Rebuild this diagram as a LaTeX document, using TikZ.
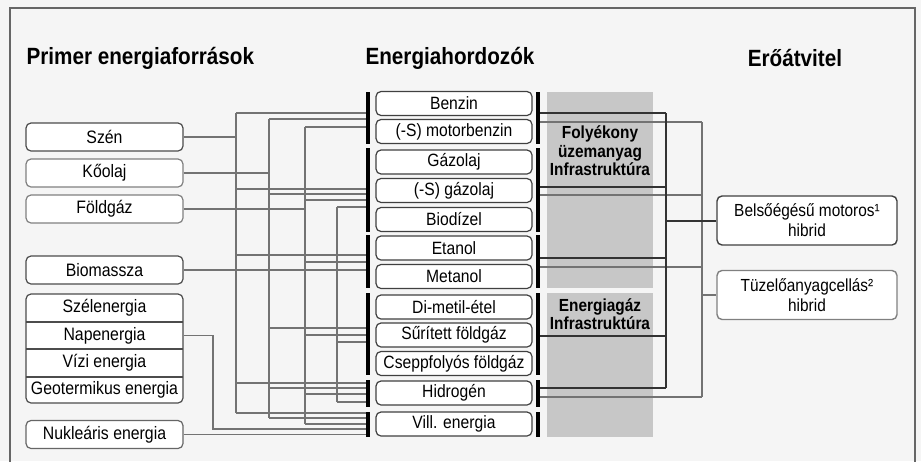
\documentclass[tikz,border=0pt]{standalone}
\usepackage{fontspec}
\setmainfont{Liberation Sans}[FakeStretch=0.88]
\usetikzlibrary{positioning}

\tikzset{
  forras/.style={draw=black!70, line width=1.2pt, rounded corners=5pt, fill=white,
    minimum width=157pt, minimum height=28pt, inner sep=0pt, font=\fontsize{18}{20}\selectfont},
  hordozo/.style={draw=black!75, line width=1.2pt, rounded corners=5pt, fill=white,
    minimum width=156pt, minimum height=24pt, inner sep=0pt, font=\fontsize{17.8}{19}\selectfont},
  hajtas/.style={draw=black!75, line width=1.4pt, rounded corners=5pt, fill=white,
    minimum width=180pt, minimum height=49pt, inner sep=0pt, align=center,
    font=\fontsize{17.5}{20}\selectfont},
  cim/.style={font=\bfseries\fontsize{23.5}{26}\selectfont},
  infra/.style={align=center, font=\bfseries\fontsize{17.5}{18.5}\selectfont},
  vez/.style={draw=black!55, line width=1.3pt},
  sotet/.style={draw=black!80, line width=2pt},
  sin/.style={line width=4pt}
}

\begin{document}
\begin{tikzpicture}[x=1pt,y=-1pt]
\useasboundingbox (0,0) rectangle (921,461);
\fill[black!4] (0,0) rectangle (921,461);
\draw[black!60, line width=1.2pt] (10,8) rectangle (915,470);

% infrastruktura savok
\fill[black!22] (547,92) rectangle (653,288);
\fill[black!22] (547,293) rectangle (653,437);

% fejlecek
\node[cim, anchor=west] (h1) at (23,58) {Primer energiaforrások};
\node[cim] (h2) at (450,58) {Energiahordozók};
\node[cim] (h3) at (795,58) {Erőátvitel};

% primer energiaforrasok
\node[forras] (szen) at (104.5,137) {Szén};
\node[forras, draw=black!50] (koolaj) at (104.5,173) {Kőolaj};
\node[forras, draw=black!50] (foldgaz) at (104.5,209) {Földgáz};
\node[forras] (biomassza) at (104.5,270) {Biomassza};
\draw[forras] (26,294) rectangle (183,403);
\draw[black!70, line width=1.2pt] (26,322)--(183,322) (26,349)--(183,349) (26,377)--(183,377);
\node[forras, draw=none, fill=none, minimum height=27pt] (szel) at (104.5,308) {Szélenergia};
\node[forras, draw=none, fill=none, minimum height=27pt] (nap) at (104.5,335.5) {Napenergia};
\node[forras, draw=none, fill=none, minimum height=27pt] (vizi) at (104.5,363) {Vízi energia};
\node[forras, draw=none, fill=none, minimum height=26pt] (geo) at (104.5,390) {Geotermikus energia};
\node[forras, draw=black!60] (nuklearis) at (104.5,434.5) {Nukleáris energia};

% bal oldali vezetekek
\draw[vez] (szen.east) -- (236,137);
\draw[vez] (236,113) -- (236,413);
\foreach \y in {113,189,255,383,413} \draw[vez] (236,\y) -- (366,\y);
\draw[vez] (koolaj.east) -- (269,173);
\draw[vez] (269,119) -- (269,418);
\foreach \y in {119,194,328,388,418} \draw[vez] (269,\y) -- (366,\y);
\draw[vez] (foldgaz.east) -- (305,209);
\draw[vez] (305,127) -- (305,424);
\foreach \y in {127,200,262,335,394,424} \draw[vez] (305,\y) -- (366,\y);
\draw[vez] (biomassza.east) -- (366,270);
\draw[vez] (337,207) -- (337,402);
\foreach \y in {207,342,402} \draw[vez] (337,\y) -- (366,\y);
\draw[vez] (nap.east) -- (213,335.5) -- (213,429) -- (366,429);
\draw[vez] (nuklearis.east) -- (366,434.5);

% jobb oldali vezetekek
\foreach \y in {122,195,267,397} \draw[vez] (540,\y) -- (702,\y);
\draw[vez] (702,122) -- (702,397);
\foreach \y in {113,187,258,336,388} \draw[sotet] (540,\y) -- (666,\y);
\draw[sotet] (666,113) -- (666,388);

% sinek
\foreach \a/\b in {92/144,148/232,235/288,293/375,380/407,412/437} {
  \draw[sin] (368,\a) -- (368,\b);
  \draw[sin] (538,\a) -- (538,\b);
}

% energiahordozok
\node[hordozo] (benzin) at (454,103.5) {Benzin};
\node[hordozo] (sbenzin) at (454,131.5) {(-S) motorbenzin};
\node[hordozo] (gazolaj) at (454,162) {Gázolaj};
\node[hordozo] (sgazolaj) at (454,190.5) {(-S) gázolaj};
\node[hordozo] (biodizel) at (454,219.5) {Biodízel};
\node[hordozo] (etanol) at (454,248) {Etanol};
\node[hordozo] (metanol) at (454,276.5) {Metanol};
\node[hordozo] (dme) at (454,307) {Di-metil-étel};
\node[hordozo] (cng) at (454,335) {Sűrített földgáz};
\node[hordozo] (lng) at (454,363.5) {Cseppfolyós földgáz};
\node[hordozo] (hidrogen) at (454,393) {Hidrogén};
\node[hordozo] (vill) at (454,424) {Vill. energia};

\node[infra] (folyekony) at (600,151) {Folyékony\\üzemanyag\\Infrastruktúra};
\node[infra] (energiagaz) at (600,314) {Energiagáz\\Infrastruktúra};

% erőátvitel
\node[hajtas] (belso) at (807,220.5) {Belsőégésű motoros¹\\hibrid};
\node[hajtas, draw=black!50] (tuzelo) at (807,295) {Tüzelőanyagcellás²\\hibrid};
\draw[sotet] (666,220.5) -- (belso.west);
\draw[vez] (702,295) -- (tuzelo.west);
\end{tikzpicture}
\end{document}
